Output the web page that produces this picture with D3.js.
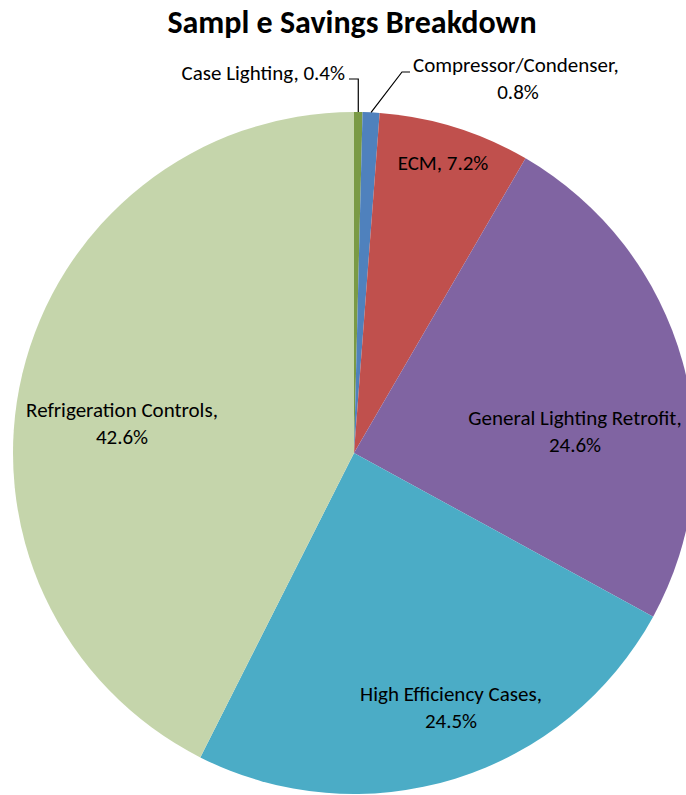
<!DOCTYPE html>
<html>
<head>
<meta charset="utf-8">
<script src="https://cdn.jsdelivr.net/npm/d3@7"></script>
<style>
  html, body { margin: 0; padding: 0; background: #fff; }
  svg { display: block; }
  text { font-family: Carlito, Calibri, Lato, "Open Sans", sans-serif; fill: #000; }
</style>
</head>
<body>
<div id="chart"></div>
<script>
// Savings by measure (percent of total)
const categories = [
  "Case Lighting",
  "Compressor/Condenser",
  "ECM",
  "General Lighting Retrofit",
  "High Efficiency Cases",
  "Refrigeration Controls"
];
const savings = [0.4, 0.8, 7.2, 24.6, 24.5, 42.6];
const sliceColors = ["#7A9A45", "#4F81BD", "#C0504D", "#8064A2", "#4BACC6", "#C5D5AB"];
const chartTitle = "Sampl e Savings Breakdown";

const width = 686, height = 795;
const cx = 354, cy = 453, radius = 341;

const svg = d3.select("#chart").append("svg")
  .attr("width", width)
  .attr("height", height);

svg.append("text")
  .attr("x", 352)
  .attr("y", 33)
  .attr("text-anchor", "middle")
  .style("font-size", "32px")
  .style("font-weight", "bold")
  .text(chartTitle);

const data = categories.map((c, i) => ({ name: c, value: savings[i], color: sliceColors[i] }));

const pie = d3.pie().sort(null).value(d => d.value);
const arcs = pie(data);
const arc = d3.arc().innerRadius(0).outerRadius(radius);

const g = svg.append("g").attr("transform", `translate(${cx},${cy})`);

g.selectAll("path.slice")
  .data(arcs)
  .join("path")
  .attr("class", "slice")
  .attr("d", arc)
  .attr("fill", d => d.data.color);

// Label placement: x, first baseline y, anchor, and whether the value goes on a second line
const labelLayout = {
  "Case Lighting":             { x: 345, y: 80,  anchor: "end",    split: false },
  "Compressor/Condenser":      { x: 413, y: 72,  anchor: "start",  split: true, x2: 518 },
  "ECM":                       { x: 443, y: 170, anchor: "middle", split: false },
  "General Lighting Retrofit": { x: 575, y: 425, anchor: "middle", split: true },
  "High Efficiency Cases":     { x: 451, y: 701, anchor: "middle", split: true },
  "Refrigeration Controls":    { x: 122, y: 417, anchor: "middle", split: true }
};
const lineGap = 27;
const pct = v => v.toFixed(1) + "%";

arcs.forEach(a => {
  const L = labelLayout[a.data.name];
  const t = svg.append("text")
    .attr("text-anchor", L.anchor)
    .style("font-size", "21px");
  if (L.split) {
    t.append("tspan").attr("x", L.x).attr("y", L.y).text(a.data.name + ",");
    const x2 = L.x2 !== undefined ? L.x2 : L.x;
    t.append("tspan")
      .attr("x", x2).attr("y", L.y + lineGap)
      .attr("text-anchor", "middle")
      .text(pct(a.data.value));
  } else {
    t.attr("x", L.x).attr("y", L.y).text(a.data.name + ", " + pct(a.data.value));
  }
});

// Leader lines for the two thin slices at the top
const edgePoint = a => {
  const m = (a.startAngle + a.endAngle) / 2;
  return [cx + radius * Math.sin(m), cy - radius * Math.cos(m)];
};
const leaders = [
  { slice: 0, path: p => [[349, 79], [p[0], 79], p] },
  { slice: 1, path: p => [[410, 72], [402, 72], p] }
];
leaders.forEach(l => {
  const p = edgePoint(arcs[l.slice]);
  svg.append("path")
    .attr("d", d3.line()(l.path(p)))
    .attr("fill", "none")
    .attr("stroke", "#000")
    .attr("stroke-width", 1.2);
});
</script>
</body>
</html>
